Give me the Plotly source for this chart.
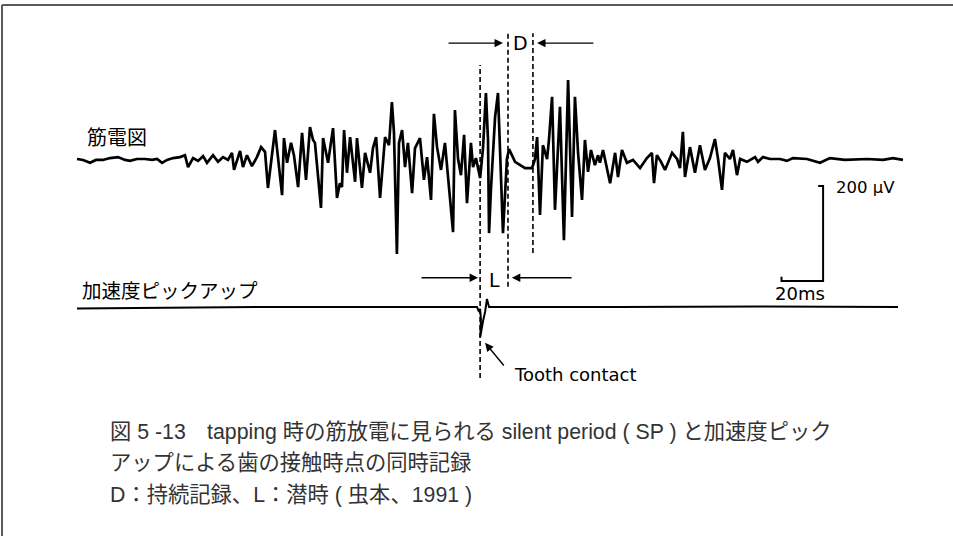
import plotly.graph_objects as go

# ---------------- data ----------------
# EMG trace (筋電図): time in ms, amplitude in µV
emg_time_ms = [
    0, 2.9, 6.3, 9.1, 12.5, 15.9, 19.7, 23.1, 25.5, 28.8,
    32.7, 36.1, 38.5, 40.9, 43.3, 46.2, 49.5, 51.9, 53.4, 55.8,
    58.2, 60.6, 62.5, 65.4, 67.8, 70.2, 72.6, 74.5, 75.5, 78.4,
    79.8, 81.7, 84.1, 86.5, 88.5, 90.4, 91.8, 95.2, 98.6, 99.5,
    101.0, 102.9, 104.3, 106.3, 108.2, 110.1, 112.0, 113.5, 114.4, 117.3,
    118.3, 120.7, 123.1, 125.0, 126.4, 127.4, 128.4, 129.8, 131.3, 133.7,
    134.6, 137.0, 138.5, 140.9, 142.3, 143.8, 145.7, 148.1, 150.0, 151.4,
    152.4, 153.8, 154.8, 156.3, 157.7, 159.1, 161.1, 162.5, 164.9, 166.8,
    168.3, 170.2, 171.6, 173.1, 175.0, 176.9, 180.8, 181.7, 183.2, 184.6,
    186.1, 187.5, 189.4, 190.4, 191.8, 192.8, 193.8, 195.2, 196.6, 197.6,
    198.1, 199.0, 200.0, 201.0, 202.4, 203.4, 204.8, 206.7, 207.7, 210.6,
    213.0, 215.4, 218.8, 220.2, 221.2, 222.6, 224.0, 226.0, 226.9, 228.4,
    229.8, 232.2, 234.1, 236.1, 238.0, 239.4, 240.9, 242.8, 244.2, 245.7,
    247.1, 249.0, 250.5, 251.4, 252.9, 254.3, 256.3, 258.7, 260.1, 262.0,
    264.4, 267.3, 270.7, 274.0, 276.4, 277.4, 278.8, 280.8, 282.7, 286.1,
    288.5, 289.9, 291.3, 292.3, 294.7, 297.1, 299.5, 301.9, 304.3, 306.7,
    308.2, 310.1, 311.5, 313.9, 315.4, 317.3, 318.8, 322.1, 326.0, 327.4,
    329.8, 333.2, 338.0, 341.3, 344.2, 351.0, 357.2, 362.0, 369.2, 379.8,
    387.5, 392.3, 397.1,
]
emg_uv = [
    0, -2, -8, -2, -2, 2, 4, -2, -4, 0,
    0, -2, 0, -8, -2, 2, 4, 8, -17, 2,
    -4, 6, -8, 8, -6, 4, -2, 13, -23, 17,
    -17, 8, -15, 4, 25, 15, -61, 61, -76, 44,
    -8, 34, 8, -59, 55, -44, 67, 40, 34, -103,
    44, -8, 65, -82, -51, -59, 61, -29, 46, -48,
    44, -61, 13, -29, 23, 46, -82, 46, 29, 120,
    55, -200, 34, 61, -17, 34, -72, 23, 44, -44,
    4, -86, 95, 25, -23, 34, -154, 103, 0, -34,
    51, -93, 34, -17, 2, -23, -40, 23, 139, 40,
    -156, -65, 0, 88, 139, 19, -156, 0, 21, -6,
    -13, -19, -19, 0, 46, -118, 29, 0, 40, 131,
    -107, 110, -171, 166, -122, 131, 13, -86, 40, -27,
    19, -13, 8, -8, 19, -13, -51, 13, -38, 19,
    -8, -2, -19, 2, 13, -51, 8, -6, -23, 13,
    0, -19, 57, -38, 25, -29, 29, -23, 2, 42,
    0, -65, 13, 0, 19, -34, 0, -6, 4, -6,
    4, 0, 0, -4, 2, 0, -8, 2, -2, 0,
    -2, 2, -2,
]

# Accelerometer pick-up trace (加速度ピックアップ), same time base, relative units
accel_time_ms = [0, 40, 90, 150, 192.3, 193.3, 193.8, 194.2, 193.9, 195.2, 196.2, 197.1, 198.1, 260, 330, 394.7]
accel_val = [-3, -1, 0, 0, 0, -10, -4, -25, -63, -30, -10, 17, 0, 0, 1, 0]

# Event markers (ms): tooth contact, SP onset, SP end
tooth_contact_ms = 193.8
sp_start_ms = 207.2
sp_end_ms = 219.2

# Scale bar values
scale_ms = 20
scale_uv = 200

# Texts
emg_label = "筋電図"
accel_label = "加速度ピックアップ"
scale_uv_label = "200 μV"
scale_ms_label = "20ms"
contact_label = "Tooth contact"
caption_lines = [
    "図 5 -13　tapping 時の筋放電に見られる silent period ( SP ) と加速度ピック",
    "アップによる歯の接触時点の同時記録",
    "D：持続記録、L：潜時 ( 虫本、1991 )",
]

# ---------------- layout geometry ----------------
W, H = 953, 536
PX_PER_MS = 2.08
PX_PER_UV = 0.475
X0_PX = 77
EMG_BASE_PX = 159
ACC_BASE_PX = 307

x_range = [-X0_PX / PX_PER_MS, (W - X0_PX) / PX_PER_MS]
y_range = [-(H - EMG_BASE_PX) / PX_PER_UV, EMG_BASE_PX / PX_PER_UV]
y2_range = [-(H - ACC_BASE_PX) / PX_PER_UV, ACC_BASE_PX / PX_PER_UV]

JP_FONT = "Noto Sans CJK JP"
LAT_FONT = "DejaVu Sans"
CAP_FONT = "Liberation Sans, Noto Sans CJK JP"

fig = go.Figure()

fig.add_trace(go.Scatter(x=emg_time_ms, y=emg_uv, mode="lines",
                         line=dict(color="black", width=2.7), hoverinfo="skip", showlegend=False))
fig.add_trace(go.Scatter(x=accel_time_ms, y=accel_val, mode="lines", yaxis="y2",
                         line=dict(color="black", width=2), hoverinfo="skip", showlegend=False))

# scale bar (anchored at bottom-right corner)
sb_t, sb_v = 358.7, -257
fig.add_trace(go.Scatter(
    x=[sb_t - scale_ms, sb_t - scale_ms, sb_t, sb_t, sb_t - 2.4],
    y=[sb_v + 9, sb_v, sb_v, sb_v + scale_uv, sb_v + scale_uv],
    mode="lines", line=dict(color="black", width=2), hoverinfo="skip", showlegend=False))

shapes = []
# frame lines (top and left)
shapes.append(dict(type="line", xref="paper", yref="paper", x0=2 / W, x1=1, y0=1 - 5 / H, y1=1 - 5 / H,
                   line=dict(color="#5a5a5a", width=2)))
shapes.append(dict(type="line", xref="paper", yref="paper", x0=2 / W, x1=2 / W, y0=0, y1=1 - 5 / H,
                   line=dict(color="#5a5a5a", width=2)))
# dashed marker lines
for t, top, bot in [(tooth_contact_ms, 198, -461), (sp_start_ms, 265, -269), (sp_end_ms, 265, -198)]:
    shapes.append(dict(type="line", xref="x", yref="y", x0=t, x1=t, y0=bot, y1=top,
                       line=dict(color="black", width=1.6, dash="5px,3px")))

ann = []


def arrow(tip_t, tail_t, v, tip_v=None, tail_v=None):
    ann.append(dict(x=tip_t, y=v if tip_v is None else tip_v, ax=tail_t, ay=v if tail_v is None else tail_v,
                    xref="x", yref="y", axref="x", ayref="y", text="", showarrow=True,
                    arrowhead=2, arrowsize=1.2, arrowwidth=1.4, arrowcolor="black", standoff=0))


# D arrows
arrow(sp_start_ms - 2.4, sp_start_ms - 29.3, 244)
arrow(sp_end_ms + 2.0, sp_end_ms + 29.8, 244)
ann.append(dict(x=(sp_start_ms + sp_end_ms) / 2, y=244, xref="x", yref="y", text="D", showarrow=False,
                font=dict(family=LAT_FONT, size=19, color="black")))
# L arrows
arrow(tooth_contact_ms - 1.0, tooth_contact_ms - 28.9, -250)
arrow(sp_start_ms + 1.9, sp_start_ms + 31.3, -250)
ann.append(dict(x=(tooth_contact_ms + sp_start_ms) / 2, y=-255, xref="x", yref="y", text="L", showarrow=False,
                font=dict(family=LAT_FONT, size=19, color="black")))
# tooth contact arrow + label
arrow(196.2, 205.8, None, tip_v=-387, tail_v=-438)
ann.append(dict(x=209.1, y=-453, xref="x", yref="y", text=contact_label, showarrow=False,
                xanchor="left", yanchor="middle", font=dict(family=LAT_FONT, size=18, color="black")))
# scale bar labels
ann.append(dict(x=sb_t + 5, y=sb_v + scale_uv - 2, xref="x", yref="y", text=scale_uv_label, showarrow=False,
                xanchor="left", yanchor="middle", font=dict(family=LAT_FONT, size=16.5, color="black")))
ann.append(dict(x=sb_t - scale_ms / 2 - 1, y=sb_v - 26, xref="x", yref="y", text=scale_ms_label, showarrow=False,
                xanchor="center", yanchor="middle", font=dict(family=LAT_FONT, size=18, color="black")))
# trace labels
ann.append(dict(x=85 / W, y=1 - 136 / H, xref="paper", yref="paper", text=emg_label, showarrow=False,
                xanchor="left", yanchor="middle", font=dict(family=JP_FONT, size=20, color="black")))
ann.append(dict(x=80 / W, y=1 - 289 / H, xref="paper", yref="paper", text=accel_label, showarrow=False,
                xanchor="left", yanchor="middle", font=dict(family=JP_FONT, size=19.5, color="black")))
# caption
for line, py in zip(caption_lines, [432, 463, 495]):
    ann.append(dict(x=108 / W, y=1 - py / H, xref="paper", yref="paper", text=line, showarrow=False,
                    xanchor="left", yanchor="middle", font=dict(family=CAP_FONT, size=21.3, color="#333333")))

fig.update_layout(
    width=W, height=H, margin=dict(l=0, r=0, t=0, b=0),
    paper_bgcolor="white", plot_bgcolor="white",
    xaxis=dict(range=x_range, visible=False, fixedrange=True),
    yaxis=dict(range=y_range, visible=False, fixedrange=True),
    yaxis2=dict(range=y2_range, visible=False, overlaying="y", fixedrange=True),
    shapes=shapes, annotations=ann, showlegend=False,
)

fig.write_html("out.html", config={"displayModeBar": False},
               post_script="document.body.style.margin='0';document.body.style.overflow='hidden';")
